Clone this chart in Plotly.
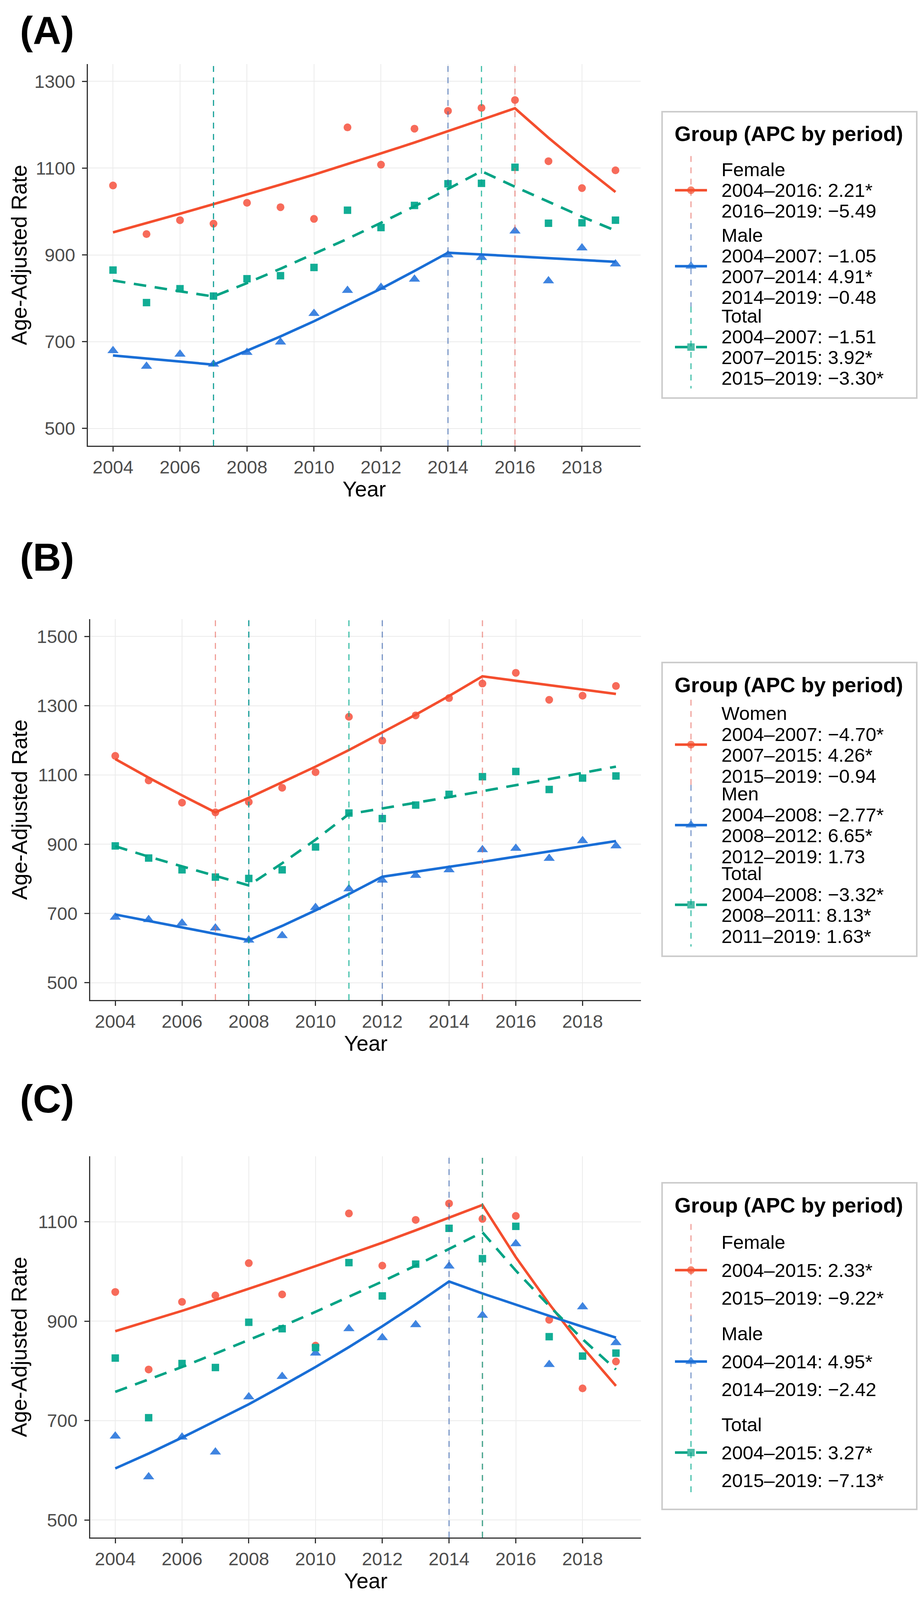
import plotly.graph_objects as go

W, H = 2363, 4195

years = list(range(2004, 2020))
x_ticks = list(range(2004, 2020, 2))

# ---- panel A: observed rates and joinpoint fits
a_female = [1060, 948, 980, 972, 1020, 1010, 983, 1194, 1108, 1191, 1232, 1239, 1257, 1116, 1054, 1095]
a_male = [679, 643, 671, 648, 675, 699, 765, 818, 825, 844, 900, 894, 955, 840, 916, 879]
a_total = [865, 790, 822, 805, 845, 852, 871, 1003, 963, 1014, 1064, 1065, 1102, 973, 974, 980]
a_female_fit = [952, 973, 995, 1017, 1039, 1062, 1085, 1109, 1134, 1159, 1185, 1211, 1238, 1170, 1106, 1045]
a_male_fit = [668, 661, 654, 647, 679, 712, 747, 784, 822, 863, 905, 901, 897, 892, 888, 884]
a_total_fit = [841, 828, 816, 804, 835, 868, 902, 937, 974, 1012, 1052, 1093, 1057, 1022, 988, 956]
a_joins = {"f": [2016], "m": [2007, 2014], "t": [2007, 2015]}
a_names = ["Female", "Male", "Total"]
a_female_apc = ["2004–2016: 2.21*", "2016–2019: −5.49"]
a_male_apc = ["2004–2007: −1.05", "2007–2014: 4.91*", "2014–2019: −0.48"]
a_total_apc = ["2004–2007: −1.51", "2007–2015: 3.92*", "2015–2019: −3.30*"]

# ---- panel B
b_female = [1155, 1084, 1020, 992, 1022, 1063, 1108, 1268, 1199, 1272, 1322, 1364, 1395, 1317, 1329, 1357]
b_male = [689, 682, 672, 658, 623, 636, 717, 771, 796, 810, 826, 884, 888, 859, 910, 895]
b_total = [895, 860, 826, 805, 801, 826, 892, 990, 974, 1013, 1044, 1095, 1110, 1058, 1091, 1097]
b_female_fit = [1146, 1092, 1041, 992, 1034, 1078, 1124, 1172, 1222, 1274, 1328, 1385, 1372, 1359, 1346, 1334]
b_male_fit = [697, 678, 659, 641, 623, 664, 709, 756, 806, 820, 834, 849, 864, 879, 894, 909]
b_total_fit = [894, 864, 836, 808, 781, 845, 913, 987, 1003, 1020, 1036, 1053, 1070, 1088, 1106, 1124]
b_joins = {"f": [2007, 2015], "m": [2008, 2012], "t": [2008, 2011]}
b_names = ["Women", "Men", "Total"]
b_female_apc = ["2004–2007: −4.70*", "2007–2015: 4.26*", "2015–2019: −0.94"]
b_male_apc = ["2004–2008: −2.77*", "2008–2012: 6.65*", "2012–2019: 1.73"]
b_total_apc = ["2004–2008: −3.32*", "2008–2011: 8.13*", "2011–2019: 1.63*"]

# ---- panel C
c_female = [959, 803, 939, 952, 1017, 954, 851, 1117, 1012, 1104, 1137, 1106, 1112, 903, 765, 819]
c_male = [669, 587, 667, 637, 748, 789, 836, 885, 867, 893, 1011, 912, 1056, 813, 929, 857]
c_total = [826, 706, 815, 807, 898, 885, 847, 1018, 951, 1015, 1087, 1026, 1091, 869, 830, 836]
c_female_fit = [880, 900, 921, 943, 965, 988, 1011, 1034, 1058, 1083, 1108, 1134, 1029, 935, 848, 770]
c_male_fit = [604, 634, 666, 699, 733, 770, 808, 848, 890, 934, 980, 956, 933, 911, 889, 867]
c_total_fit = [758, 783, 808, 835, 862, 890, 919, 949, 980, 1012, 1045, 1079, 1002, 931, 864, 803]
c_joins = {"f": [2015], "m": [2014], "t": [2015]}
c_names = ["Female", "Male", "Total"]
c_female_apc = ["2004–2015: 2.33*", "2015–2019: −9.22*"]
c_male_apc = ["2004–2014: 4.95*", "2014–2019: −2.42"]
c_total_apc = ["2004–2015: 3.27*", "2015–2019: −7.13*"]

LINE = {"f": "#F44E2E", "m": "#196ED6", "t": "#00A385"}
POINT = {"f": "#F76B5A", "m": "#3F84E0", "t": "#12AD95"}
VLINE = {"f": "rgba(230,95,85,0.6)", "m": "rgba(55,100,175,0.65)", "t": "rgba(0,170,140,0.75)"}
SYMBOL = {"f": "circle", "m": "triangle-up", "t": "square"}
MSIZE = {"f": 20, "m": 25, "t": 19}
FONT = "Liberation Sans, Arial, sans-serif"


def px(x):
    return x / W


def py(y):
    return 1 - y / H


# layout in image pixels; panel C sits a little higher so its bottom stays in view
C_UP = 125
panels = [
    dict(tag="(A)", tag_y=70, box=(217, 1632, 156, 1133), yrange=[460, 1340], yticks=[500, 700, 900, 1100, 1300],
         data=(a_female, a_male, a_total), fits=(a_female_fit, a_male_fit, a_total_fit), joins=a_joins,
         names=a_names, apc=(a_female_apc, a_male_apc, a_total_apc),
         leg=(278, 1011), leg_title=334, blocks=[426, 594, 801], step=53),
    dict(tag="(B)", tag_y=1418, box=(223, 1633, 1577, 2552), yrange=[450, 1550], yticks=[500, 700, 900, 1100, 1300, 1500],
         data=(b_female, b_male, b_total), fits=(b_female_fit, b_male_fit, b_total_fit), joins=b_joins,
         names=b_names, apc=(b_female_apc, b_male_apc, b_total_apc),
         leg=(1688, 2440), leg_title=1745, blocks=[1818, 2024, 2228], step=53.5),
    dict(tag="(C)", tag_y=2930 - C_UP, box=(223, 1633, 3077 - C_UP, 4053 - C_UP), yrange=[465, 1232],
         yticks=[500, 700, 900, 1100],
         data=(c_female, c_male, c_total), fits=(c_female_fit, c_male_fit, c_total_fit), joins=c_joins,
         names=c_names, apc=(c_female_apc, c_male_apc, c_total_apc),
         leg=(3145 - C_UP, 3981 - C_UP), leg_title=3202 - C_UP,
         blocks=[3297 - C_UP, 3531 - C_UP, 3764 - C_UP], step=71.5),
]

fig = go.Figure()
shapes, annotations = [], []
key_x, key_y, key_sym, key_col, key_size = [], [], [], [], []
groups = ["f", "m", "t"]
DASH_T = "32px,22px"
DASH_V = "15px,14px"

for i, p in enumerate(panels, start=1):
    xa, ya = ("x", "y") if i == 1 else (f"x{i}", f"y{i}")
    x0, x1, y0, y1 = p["box"]
    axis_common = dict(showline=True, linecolor="#333333", linewidth=3, ticks="outside", ticklen=12,
                       tickwidth=3, tickcolor="#333333", showgrid=True, gridcolor="#EBEBEB", gridwidth=2,
                       zeroline=False, tickfont=dict(family=FONT, size=47, color="#4D4D4D"), fixedrange=True)
    fig.layout[("xaxis" if i == 1 else f"xaxis{i}")] = dict(
        domain=[px(x0), px(x1)], anchor=ya, range=[2003.25, 2019.75], tickvals=x_ticks, **axis_common)
    fig.layout[("yaxis" if i == 1 else f"yaxis{i}")] = dict(
        domain=[py(y1), py(y0)], anchor=xa, range=p["yrange"], tickvals=p["yticks"],
        ticklabelstandoff=8, **axis_common)

    for g, obs, fit in zip(groups, p["data"], p["fits"]):
        fig.add_trace(go.Scatter(x=years, y=obs, mode="markers", xaxis=xa, yaxis=ya, showlegend=False,
                                 marker=dict(symbol=SYMBOL[g], size=MSIZE[g], color=POINT[g], line=dict(width=0))))
        fig.add_trace(go.Scatter(x=years, y=fit, mode="lines", xaxis=xa, yaxis=ya, showlegend=False,
                                 line=dict(color=LINE[g], width=6.5, dash=DASH_T if g == "t" else "solid")))

    # joinpoint markers (vertical dashed, drawn over the data as in the original)
    for g in groups:
        for yr in p["joins"][g]:
            shapes.append(dict(type="line", xref=xa, yref=f"{ya} domain", x0=yr, x1=yr, y0=0, y1=1,
                               line=dict(color=VLINE[g], width=3, dash=DASH_V), layer="above"))

    # panel tag and axis titles
    annotations.append(dict(text=f"<b>{p['tag']}</b>", x=px(112), y=py(p["tag_y"]), xref="paper", yref="paper",
                            showarrow=False, xanchor="center", yanchor="middle",
                            font=dict(family=FONT, size=100, color="black")))
    annotations.append(dict(text="Age-Adjusted Rate", x=px(41), y=py((y0 + y1) / 2), xref="paper", yref="paper",
                            textangle=-90, showarrow=False, xanchor="center", yanchor="middle",
                            font=dict(family=FONT, size=55, color="black")))
    annotations.append(dict(text="Year", x=px((x0 + x1) / 2), y=py(y1 + 111), xref="paper", yref="paper",
                            showarrow=False, xanchor="center", yanchor="middle",
                            font=dict(family=FONT, size=55, color="black")))

    # legend box
    lt, lb = p["leg"]
    shapes.append(dict(type="rect", xref="paper", yref="paper", x0=px(1687), x1=px(2339), y0=py(lb), y1=py(lt),
                       line=dict(color="#CCCCCC", width=4), fillcolor="white", layer="below"))
    annotations.append(dict(text="<b>Group (APC by period)</b>", x=px(1717), y=py(p["leg_title"]),
                            xref="paper", yref="paper", showarrow=False, xanchor="left", yanchor="middle",
                            font=dict(family=FONT, size=54, color="black")))
    s = p["step"]
    spans = []
    for g, start, name, apc in zip(groups, p["blocks"], p["names"], p["apc"]):
        lines = [name] + apc
        for k, txt in enumerate(lines):
            annotations.append(dict(text=txt, x=px(1837), y=py(start + k * s), xref="paper", yref="paper",
                                    showarrow=False, xanchor="left", yanchor="middle",
                                    font=dict(family=FONT, size=49, color="black")))
        spans.append((start, start + (len(lines) - 1) * s))
    bounds = [spans[0][0] - 0.65 * s]
    for a, b in zip(spans[:-1], spans[1:]):
        bounds.append((a[1] + b[0]) / 2)
    bounds.append(spans[-1][1] + 0.5 * s)
    for j, g in enumerate(groups):
        cy = (spans[j][0] + spans[j][1]) / 2
        shapes.append(dict(type="line", xref="paper", yref="paper", x0=px(1720), x1=px(1802),
                           y0=py(cy), y1=py(cy), layer="below",
                           line=dict(color=LINE[g], width=6.5, dash=DASH_T if g == "t" else "solid")))
        shapes.append(dict(type="line", xref="paper", yref="paper", x0=px(1761), x1=px(1761),
                           y0=py(bounds[j]), y1=py(bounds[j + 1]),
                           line=dict(color=VLINE[g], width=3, dash=DASH_V), layer="below"))
        key_x.append(px(1761))
        key_y.append(py(cy))
        key_sym.append(SYMBOL[g])
        key_col.append(LINE[g])
        key_size.append(MSIZE[g])

# legend key glyphs on a full-figure overlay axis
fig.add_trace(go.Scatter(x=key_x, y=key_y, mode="markers", xaxis="x4", yaxis="y4", showlegend=False,
                         hoverinfo="skip",
                         marker=dict(symbol=key_sym, size=key_size, color=key_col, line=dict(width=0))))
fig.layout["xaxis4"] = dict(domain=[0, 1], range=[0, 1], anchor="y4", visible=False, fixedrange=True)
fig.layout["yaxis4"] = dict(domain=[0, 1], range=[0, 1], anchor="x4", visible=False, fixedrange=True)

fig.update_layout(width=W, height=H, margin=dict(l=0, r=0, t=0, b=0), paper_bgcolor="white",
                  plot_bgcolor="rgba(0,0,0,0)", shapes=shapes, annotations=annotations, showlegend=False,
                  font=dict(family=FONT))

fig.write_html("out.html")
